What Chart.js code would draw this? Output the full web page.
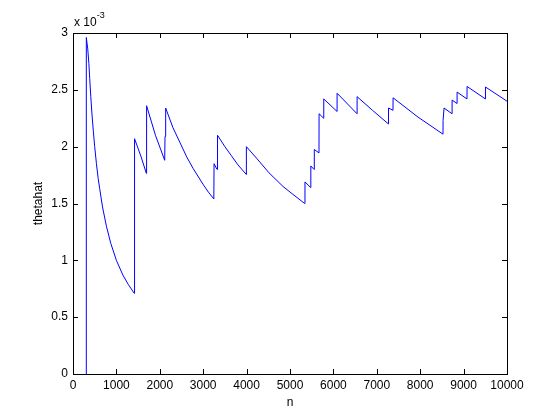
<!DOCTYPE html>
<html>
<head>
<meta charset="utf-8">
<script src="https://cdn.jsdelivr.net/npm/chart.js@4"></script>
<style>
  html, body { margin: 0; padding: 0; background: #fff; }
</style>
</head>
<body>
<canvas id="chartTheta" width="560" height="420"></canvas>
<script>
// sample index n and the running estimate (in units of 1e-3)
const nValues = [
  300, 302, 312, 340, 366, 385, 410, 440, 470, 500, 540, 580, 615, 680, 770, 870, 1000, 1150, 1270, 1410,
  1410, 1420, 1425, 1570, 1690, 1692, 1700, 1900, 2113, 2120, 2135, 2300, 2460, 2620, 2765, 2995, 3120,
  3245, 3250, 3318, 3320, 3340, 3500, 3650, 3800, 3995, 3995, 4226, 4516, 4839, 5069, 5339,
  5345, 5477, 5480, 5553, 5560, 5668, 5670, 5776, 5778, 6083, 6085, 6544, 6546,
  6900, 7267, 7270, 7373, 7375, 7950, 8525, 8527, 8550, 8733, 8735, 8848, 8850,
  9078, 9080, 9502, 9504, 10000
];
const thetahatValues = [
  0, 1.47, 2.96, 2.86, 2.73, 2.60, 2.44, 2.27, 2.13, 2.0, 1.85, 1.72, 1.63, 1.47, 1.30, 1.15, 1.0, 0.87, 0.79, 0.71,
  1.38, 1.43, 2.07, 1.91, 1.765, 2.04, 2.36, 2.10, 1.88, 2.09, 2.34, 2.17, 2.04, 1.91, 1.81, 1.67, 1.60,
  1.54, 1.85, 1.80, 1.93, 2.10, 2.0, 1.92, 1.84, 1.755, 2.0, 1.90, 1.77, 1.65, 1.58, 1.50,
  1.69, 1.64, 1.83, 1.80, 1.975, 1.945, 2.29, 2.25, 2.42, 2.31, 2.47, 2.29, 2.44,
  2.32, 2.20, 2.34, 2.32, 2.43, 2.26, 2.11, 2.23, 2.34, 2.29, 2.41, 2.38, 2.48,
  2.42, 2.53, 2.42, 2.525, 2.40
];
const xTicks = [0, 1000, 2000, 3000, 4000, 5000, 6000, 7000, 8000, 9000, 10000];
const yTicks = [0, 0.5, 1, 1.5, 2, 2.5, 3];

const FONT = 'Liberation Sans, Arial, Helvetica, sans-serif';

// matlab style box, inward ticks on all four sides and the exponent label
const matlabAxes = {
  id: 'matlabAxes',
  afterDraw(chart) {
    const { ctx, chartArea: a, scales: { x, y } } = chart;
    const len = 5;
    ctx.save();
    ctx.strokeStyle = '#000';
    ctx.lineWidth = 1;
    ctx.strokeRect(Math.round(a.left) + 0.5, Math.round(a.top) + 0.5,
      Math.round(a.right - a.left), Math.round(a.bottom - a.top));
    ctx.beginPath();
    xTicks.forEach(v => {
      const px = Math.round(x.getPixelForValue(v)) + 0.5;
      ctx.moveTo(px, a.bottom); ctx.lineTo(px, a.bottom - len);
      ctx.moveTo(px, a.top); ctx.lineTo(px, a.top + len);
    });
    yTicks.forEach(v => {
      const py = Math.round(y.getPixelForValue(v)) + 0.5;
      ctx.moveTo(a.left, py); ctx.lineTo(a.left + len, py);
      ctx.moveTo(a.right, py); ctx.lineTo(a.right - len, py);
    });
    ctx.stroke();

    ctx.fillStyle = '#000';
    ctx.textBaseline = 'alphabetic';
    ctx.font = '12px ' + FONT;
    ctx.fillText('x 10', a.left + 1, a.top - 7);
    const w = ctx.measureText('x 10').width;
    ctx.font = '9px ' + FONT;
    ctx.fillText('-3', a.left + 1 + w, a.top - 15);
    ctx.restore();
  }
};

const ctx = document.getElementById('chartTheta').getContext('2d');
const chartTheta = new Chart(ctx, {
  type: 'line',
  data: {
    datasets: [{
      label: 'thetahat',
      data: nValues.map((n, i) => ({ x: n, y: thetahatValues[i] })),
      borderColor: '#0000ff',
      borderWidth: 1,
      pointRadius: 0,
      tension: 0,
      fill: false
    }]
  },
  options: {
    responsive: false,
    animation: false,
    devicePixelRatio: 1,
    layout: { padding: { top: 33, right: 53, left: 0, bottom: 0 } },
    plugins: { legend: { display: false }, tooltip: { enabled: false } },
    scales: {
      x: {
        type: 'linear',
        min: 0,
        max: 10000,
        afterFit: s => { s.height = 46; },
        afterBuildTicks: s => { s.ticks = xTicks.map(v => ({ value: v })); },
        grid: { display: false, drawTicks: false },
        border: { display: false },
        ticks: { color: '#000', padding: 4, maxRotation: 0, font: { family: FONT, size: 12 }, callback: v => String(v) },
        title: { display: true, text: 'n', color: '#000', padding: { top: 0, bottom: 10 }, font: { family: FONT, size: 12 } }
      },
      y: {
        type: 'linear',
        min: 0,
        max: 3,
        afterFit: s => { s.width = 73; },
        afterBuildTicks: s => { s.ticks = yTicks.map(v => ({ value: v })); },
        grid: { display: false, drawTicks: false },
        border: { display: false },
        ticks: { color: '#000', padding: 5, font: { family: FONT, size: 12 }, callback: v => String(v) },
        title: { display: true, text: 'thetahat', color: '#000', padding: { top: 31, bottom: 0 }, font: { family: FONT, size: 12 } }
      }
    }
  },
  plugins: [matlabAxes]
});
</script>
</body>
</html>
